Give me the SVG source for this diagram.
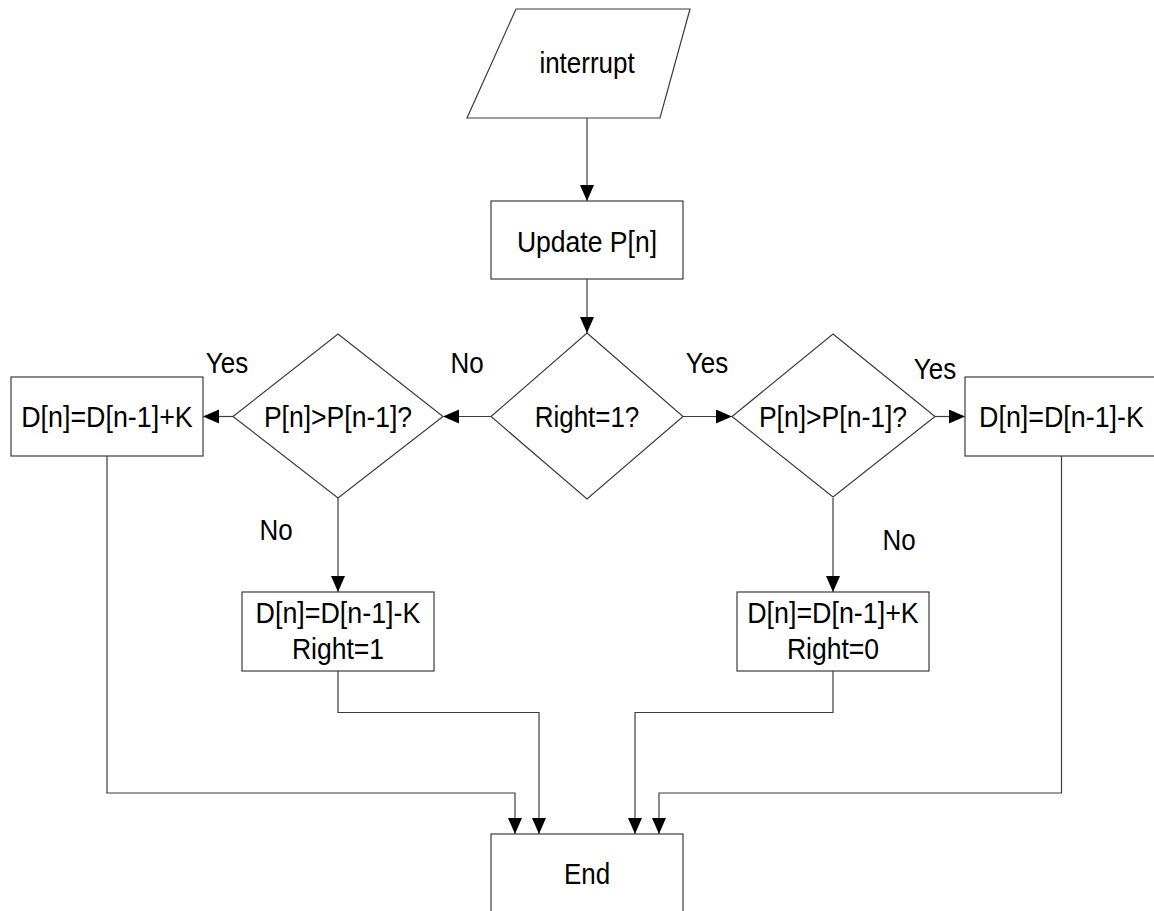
<svg xmlns="http://www.w3.org/2000/svg" width="1154" height="911" viewBox="0 0 1154 911">
<style>
.s{fill:#fff;stroke:#3c3c3c;stroke-width:1.2}
.c{fill:none;stroke:#3c3c3c;stroke-width:1.2}
text{font-family:"Liberation Sans",Arial,sans-serif;font-size:29.5px;fill:#000;text-anchor:middle}
</style>
<defs>
<marker id="ah" markerUnits="userSpaceOnUse" markerWidth="17" markerHeight="15" refX="16" refY="7" orient="auto">
<path d="M0,0 L16,7 L0,14 z" fill="#000"/>
</marker>
</defs>
<rect width="1154" height="911" fill="#fff"/>
<g id="connectors">
<path class="c" d="M587,118 V201" marker-end="url(#ah)"/>
<path class="c" d="M587,279 V333" marker-end="url(#ah)"/>
<path class="c" d="M683,416.5 H732" marker-end="url(#ah)"/>
<path class="c" d="M491,416.5 H443" marker-end="url(#ah)"/>
<path class="c" d="M233,416.5 H203" marker-end="url(#ah)"/>
<path class="c" d="M935,416.5 H965" marker-end="url(#ah)"/>
<path class="c" d="M338,498 V592" marker-end="url(#ah)"/>
<path class="c" d="M833,498 V592" marker-end="url(#ah)"/>
<path class="c" d="M107,456 V793 H515 V834" marker-end="url(#ah)"/>
<path class="c" d="M338,671 V712.5 H539 V834" marker-end="url(#ah)"/>
<path class="c" d="M833,671 V712.5 H635 V834" marker-end="url(#ah)"/>
<path class="c" d="M1061.5,456 V793 H659 V834" marker-end="url(#ah)"/>
</g>
<g id="interrupt">
<polygon class="s" points="516,9 690,9 660,118 467,118"/>
<text transform="translate(587 73) scale(.88 1)">interrupt</text>
</g>
<g id="update">
<rect class="s" x="491" y="201" width="192" height="78"/>
<text transform="translate(587 251.5) scale(.9 1)">Update P[n]</text>
</g>
<g id="right1">
<polygon class="s" points="587,333 683,416.5 587,499 491,416.5"/>
<text transform="translate(587 427) scale(.88 1)">Right=1?</text>
</g>
<g id="cmpLeft">
<polygon class="s" points="338,334 443,416.5 338,498 233,416.5"/>
<text transform="translate(338 427) scale(.9 1)">P[n]&gt;P[n-1]?</text>
</g>
<g id="cmpRight">
<polygon class="s" points="833,334 935,416.5 833,497 732,416.5"/>
<text transform="translate(833 427) scale(.9 1)">P[n]&gt;P[n-1]?</text>
</g>
<g id="addLeft">
<rect class="s" x="11" y="377" width="192" height="79"/>
<text transform="translate(107 427) scale(.91 1)">D[n]=D[n-1]+K</text>
</g>
<g id="subRight">
<rect class="s" x="965" y="377" width="193" height="79"/>
<text transform="translate(1061.5 427) scale(.91 1)">D[n]=D[n-1]-K</text>
</g>
<g id="subLeftSet">
<rect class="s" x="242" y="592" width="192" height="79"/>
<text transform="translate(338 623) scale(.91 1)">D[n]=D[n-1]-K</text>
<text transform="translate(338 659) scale(.9 1)">Right=1</text>
</g>
<g id="addRightSet">
<rect class="s" x="737" y="592" width="192" height="79"/>
<text transform="translate(833 623) scale(.91 1)">D[n]=D[n-1]+K</text>
<text transform="translate(833 659) scale(.9 1)">Right=0</text>
</g>
<g id="end">
<rect class="s" x="491" y="834" width="192" height="80"/>
<text transform="translate(587 883.5) scale(.88 1)">End</text>
</g>
<g id="labels">
<text transform="translate(227 373) scale(.88 1)">Yes</text>
<text transform="translate(467 373) scale(.88 1)">No</text>
<text transform="translate(707 373) scale(.88 1)">Yes</text>
<text transform="translate(935 379) scale(.88 1)">Yes</text>
<text transform="translate(276 540) scale(.88 1)">No</text>
<text transform="translate(899 550) scale(.88 1)">No</text>
</g>
</svg>
